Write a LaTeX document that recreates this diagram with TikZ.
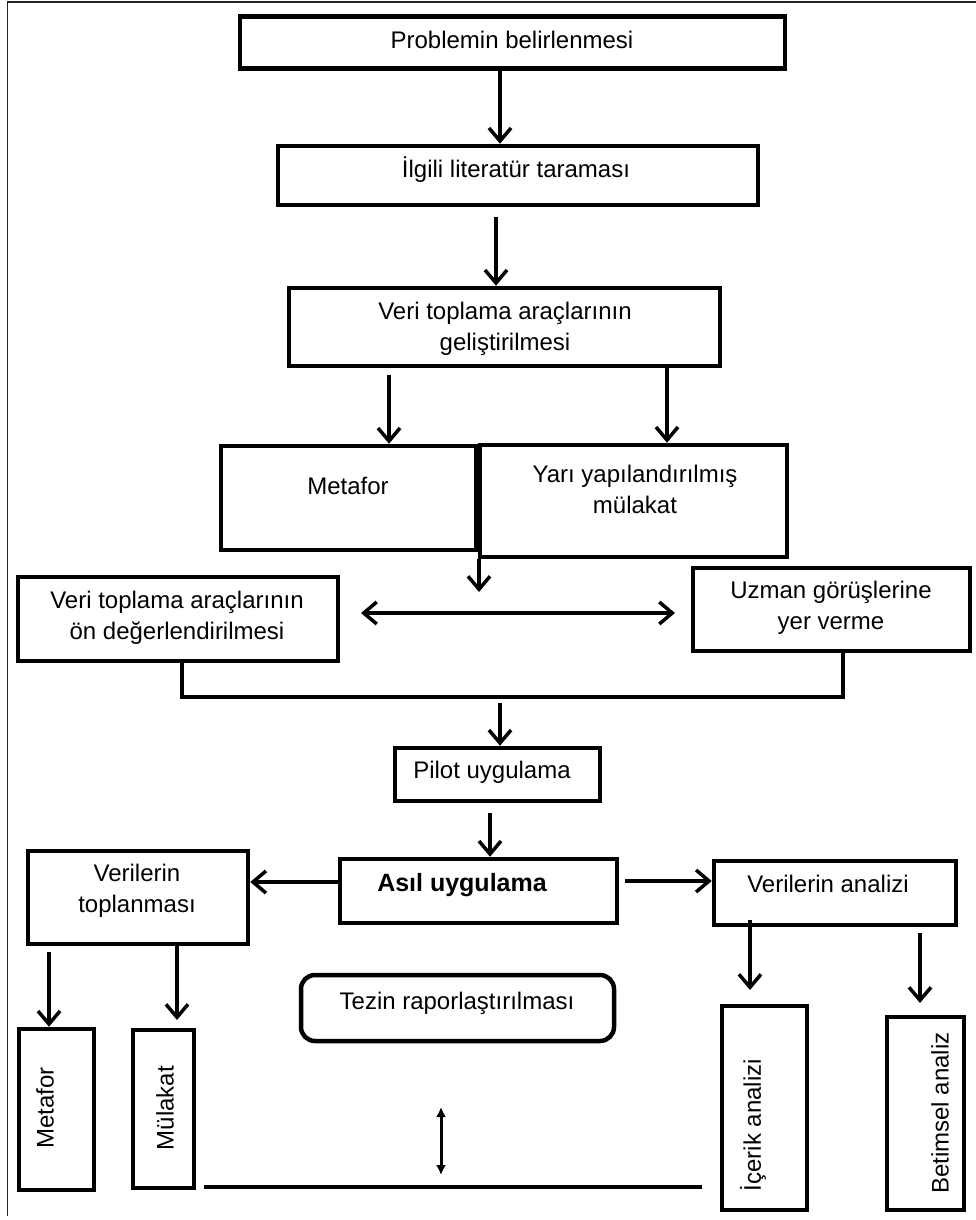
\documentclass[tikz,border=0pt]{standalone}
\usepackage{fontspec}
\setmainfont{Liberation Sans}
\usetikzlibrary{arrows.meta,calc}
\begin{document}
\begin{tikzpicture}[x=1pt,y=-1pt,
  box/.style={draw, line width=4.5pt, inner sep=0pt, rectangle},
  txt/.style={font=\fontsize{24}{31}\selectfont, align=center, inner sep=0pt},
  arr/.style={line width=3.5pt, -{Straight Barb[length=13pt,width=22pt]}},
  dbl/.style={line width=3.5pt, {Straight Barb[length=13pt,width=22pt]}-{Straight Barb[length=13pt,width=22pt]}},
  sdbl/.style={line width=3pt, {Latex[length=10pt,width=10pt]}-{Latex[length=10pt,width=10pt]}},
  conn/.style={line width=4.5pt}]
\useasboundingbox (0,0) rectangle (976,1220);
\draw[line width=1.5pt, black!85] (7.5,1216) -- (7.5,2) -- (976,2);

% boxes
\node[box, minimum width=545pt, minimum height=52pt] (b1) at (512.5,42.5) {};
\node[txt] (t1) at (512,40) {Problemin belirlenmesi};
\node[box, minimum width=480pt, minimum height=59pt] (b2) at (518,175.5) {};
\node[txt] (t2) at (516,170) {İlgili literatür taraması};
\node[box, minimum width=431pt, minimum height=78pt] (b3) at (504.5,327) {};
\node[txt] (t3) at (505,329) {Veri toplama araçlarının\\geliştirilmesi};
\node[box, minimum width=255pt, minimum height=104pt] (m1) at (348.5,498) {};
\node[txt] (tm1) at (348,486) {Metafor};
\node[box, minimum width=307pt, minimum height=112pt] (yari) at (633.5,501) {};
\node[txt] (ty) at (635,489) {Yarı yapılandırılmış\\mülakat};
\node[box, minimum width=320pt, minimum height=84pt] (onder) at (178,619) {};
\node[txt] (to) at (177,617.5) {Veri toplama araçlarının\\ön değerlendirilmesi};
\node[box, minimum width=277pt, minimum height=83pt] (uzman) at (831.5,609.5) {};
\node[txt] (tu) at (831,607.5) {Uzman görüşlerine\\yer verme};
\node[box, minimum width=205pt, minimum height=53pt] (pilot) at (497.5,774.5) {};
\node[txt] (tp) at (492,772) {Pilot uygulama};
\node[box, minimum width=277pt, minimum height=64pt] (asil) at (478.5,891) {};
\node[txt, font=\fontsize{25}{31}\selectfont\bfseries] (ta) at (462,885) {Asıl uygulama};
\node[box, minimum width=220pt, minimum height=93pt] (topl) at (138,897.5) {};
\node[txt] (tt) at (137,891) {Verilerin\\toplanması};
\node[box, minimum width=242pt, minimum height=64pt] (analiz) at (835,893) {};
\node[txt] (tan) at (828,884) {Verilerin analizi};
\node[box, minimum width=75pt, minimum height=161pt] (met2) at (56.5,1109.5) {};
\node[txt, rotate=90] (tm2) at (45,1108) {Metafor};
\node[box, minimum width=61pt, minimum height=158pt] (mul) at (163.5,1109) {};
\node[txt, rotate=90] (tmu) at (165,1108) {Mülakat};
\node[box, rounded corners=14pt, minimum width=313pt, minimum height=66pt] (tezin) at (457.5,1008) {};
\node[txt] (tz) at (457,1003) {Tezin raporlaştırılması};
\node[box, minimum width=85pt, minimum height=204pt] (icerik) at (764.5,1108) {};
\node[txt, rotate=90] (ti) at (753,1125) {İçerik analizi};
\node[box, minimum width=77pt, minimum height=193pt] (betim) at (925.5,1113.5) {};
\node[txt, rotate=90] (tb) at (940,1113) {Betimsel analiz};

% coordinates
\coordinate (ax1) at (500,0);
\coordinate (s2) at (496,217);
\coordinate (s3) at (389,375);
\coordinate (ax4) at (667,0);
\coordinate (e5) at (479,592);
\coordinate (s6) at (361,613);
\coordinate (e6) at (675,613);
\coordinate (c1a) at (182,697);
\coordinate (c1b) at (843,697);
\coordinate (s7) at (500,703);
\coordinate (s8) at (490,813);
\coordinate (ay9) at (0,882);
\coordinate (s10) at (625,881);
\coordinate (s11) at (49,952);
\coordinate (e12) at (177,1020);
\coordinate (s13) at (750,920);
\coordinate (e13) at (750,990);
\coordinate (s14) at (920,933);
\coordinate (e14) at (920,1003);
\coordinate (s15) at (441,1107);
\coordinate (e15) at (441,1175);
\coordinate (l1a) at (204,1187);
\coordinate (l1b) at (702,1187);

% connectors
\draw[arr] (b1.south -| ax1) -- (b2.north -| ax1);
\draw[arr] (s2) -- (b3.north -| s2);
\draw[arr] (s3) -- (m1.north -| s3);
\draw[arr] (b3.south -| ax4) -- (yari.north -| ax4);
\draw[arr] (yari.south -| e5) -- (e5);
\draw[dbl] (s6) -- (e6);
\draw[conn] (onder.south -| c1a) -- (c1a) -- (c1b) -- (uzman.south -| c1b);
\draw[arr] (s7) -- (pilot.north -| s7);
\draw[arr] (s8) -- (asil.north -| s8);
\draw[arr] (asil.west |- ay9) -- (topl.east |- ay9);
\draw[arr] (s10) -- (analiz.west |- s10);
\draw[arr] (s11) -- (met2.north -| s11);
\draw[arr] (topl.south -| e12) -- (e12);
\draw[arr] (s13) -- (e13);
\draw[arr] (s14) -- (e14);
\draw[sdbl] (s15) -- (e15);
\draw[conn] (l1a) -- (l1b);
\end{tikzpicture}
\end{document}
